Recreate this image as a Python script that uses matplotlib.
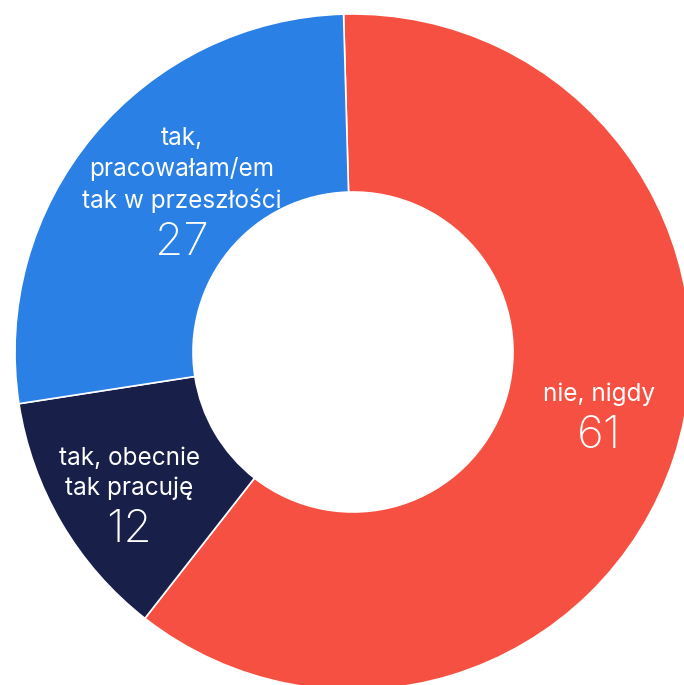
import numpy as np
import matplotlib
matplotlib.use("Agg")
import matplotlib.pyplot as plt

plt.rcParams["font.family"] = ["Inter", "DejaVu Sans"]

# Data (clockwise from the top)
labels = ["nie, nigdy", "tak, obecnie\ntak pracuję", "tak,\npracowałam/em\ntak w przeszłości"]
values = [61, 12, 27]
colors = ["#F55041", "#18204A", "#2A80E4"]

# Layout (pixel units, y up)
W, H = 684, 685
cx, cy = 353, 333
r_out, r_in = 338, 160
start_offset = 1.6  # degrees counter-clockwise from 12 o'clock
# fine offsets of each text block from the wedge's mid-ring point
text_offsets = [(9, -6), (-9, -52), (20, -50)]

fig = plt.figure(figsize=(W / 100, H / 100), dpi=100)
ax = fig.add_axes([0, 0, 1, 1])

wedges, _ = ax.pie(
    values,
    colors=colors,
    startangle=90 + start_offset,
    counterclock=False,
    radius=r_out,
    center=(cx, cy),
    wedgeprops=dict(width=r_out - r_in, edgecolor="white", linewidth=1.2),
)

r_mid = (r_out + r_in) / 2
for w, lab, val, (dx, dy) in zip(wedges, labels, values, text_offsets):
    ang = np.deg2rad((w.theta1 + w.theta2) / 2)
    x = cx + r_mid * np.cos(ang) + dx
    y = cy + r_mid * np.sin(ang) + dy
    ax.text(x, y, str(val), color="white", fontsize=33, ha="center", va="center",
            fontweight="light")
    ax.text(x, y + 35, lab, color="white", fontsize=17.5, ha="center", va="baseline",
            multialignment="center", linespacing=1.36)

ax.set_xlim(0, W)
ax.set_ylim(0, H)
ax.set_aspect("auto")
ax.axis("off")

fig.savefig("out.png", dpi=100)
